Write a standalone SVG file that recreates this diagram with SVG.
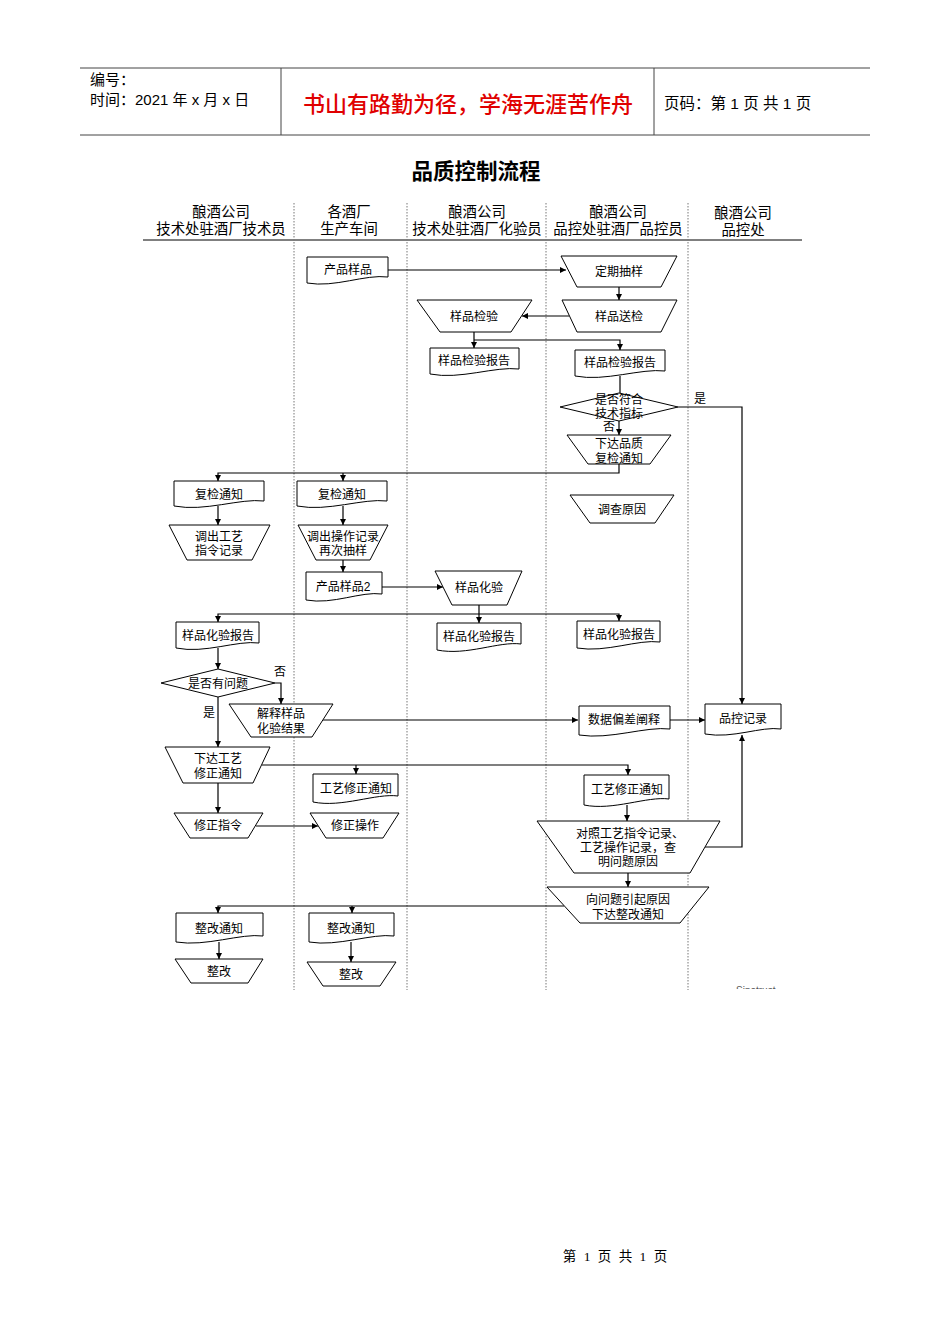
<svg xmlns="http://www.w3.org/2000/svg" width="950" height="1344" viewBox="0 0 950 1344">
<style>
text{font-family:"Liberation Sans","Noto Sans CJK SC",sans-serif;fill:#000}
.n{font-size:12px;text-anchor:middle}
.h{font-size:14.4px;text-anchor:middle}
.s{fill:#fff;stroke:#000;stroke-width:1}
.c{fill:none;stroke:#000;stroke-width:1.2}
.lane{stroke:#777;stroke-width:1;stroke-dasharray:1.5 1.5}
</style>
<defs>
<marker id="a" markerWidth="7" markerHeight="6" refX="6" refY="3" orient="auto" markerUnits="userSpaceOnUse"><path d="M0,0 L6,3 L0,6 z" fill="#000"/></marker>
<clipPath id="clip"><rect x="0" y="0" width="950" height="989"/></clipPath>
</defs>
<rect width="950" height="1344" fill="#fff"/>
<g id="header">
<line x1="80" y1="68" x2="870" y2="68" stroke="#444" stroke-width="1"/>
<line x1="80" y1="135" x2="870" y2="135" stroke="#444" stroke-width="1"/>
<line x1="281" y1="68" x2="281" y2="135" stroke="#444"/>
<line x1="654" y1="68" x2="654" y2="135" stroke="#444"/>
<text x="90" y="85" font-size="15">编号：</text>
<text x="90" y="105" font-size="15">时间：2021 年 x 月 x 日</text>
<text x="468" y="112" font-size="22" font-weight="500" text-anchor="middle" style="fill:#e00000">书山有路勤为径，学海无涯苦作舟</text>
<text x="664" y="109" font-size="15.5">页码：第 1 页  共 1 页</text>
</g>
<text x="476" y="179" font-size="21.5" font-weight="bold" text-anchor="middle">品质控制流程</text>
<g id="lanes">
<text class="h" x="221" y="217">酿酒公司</text><text class="h" x="221" y="234">技术处驻酒厂技术员</text>
<text class="h" x="349" y="217">各酒厂</text><text class="h" x="349" y="234">生产车间</text>
<text class="h" x="477" y="217">酿酒公司</text><text class="h" x="477" y="234">技术处驻酒厂化验员</text>
<text class="h" x="618" y="217">酿酒公司</text><text class="h" x="618" y="234">品控处驻酒厂品控员</text>
<text class="h" x="743" y="218">酿酒公司</text><text class="h" x="743" y="235">品控处</text>
<line x1="143" y1="240" x2="802" y2="240" stroke="#000"/>
<line class="lane" x1="294" y1="203" x2="294" y2="990"/>
<line class="lane" x1="407" y1="203" x2="407" y2="990"/>
<line class="lane" x1="546" y1="203" x2="546" y2="990"/>
<line class="lane" x1="688" y1="203" x2="688" y2="990"/>
</g>
<g id="connectors">
<path class="c" d="M388,270 H566" marker-end="url(#a)"/>
<path class="c" d="M619,287 V300" marker-end="url(#a)"/>
<path class="c" d="M569,316 H522" marker-end="url(#a)"/>
<path class="c" d="M474,332 V348" marker-end="url(#a)"/>
<path class="c" d="M474,340 H620 V350" marker-end="url(#a)"/>
<path class="c" d="M620,376 V393"/>
<path class="c" d="M619,421 V435" marker-end="url(#a)"/>
<path class="c" d="M678,407 H742 V704" marker-end="url(#a)"/>
<path class="c" d="M619,464 V473 H218 V481" marker-end="url(#a)"/>
<path class="c" d="M343,473 V481" marker-end="url(#a)"/>
<path class="c" d="M218,506 V525" marker-end="url(#a)"/>
<path class="c" d="M343,506 V525" marker-end="url(#a)"/>
<path class="c" d="M343,560 V572" marker-end="url(#a)"/>
<path class="c" d="M382,587 H443" marker-end="url(#a)"/>
<path class="c" d="M479,605 V623" marker-end="url(#a)"/>
<path class="c" d="M479,614 H218 V622" marker-end="url(#a)"/>
<path class="c" d="M479,614 H619 V621" marker-end="url(#a)"/>
<path class="c" d="M218,648 V669" marker-end="url(#a)"/>
<path class="c" d="M275,683 H281 V704" marker-end="url(#a)"/>
<path class="c" d="M218,697 V747" marker-end="url(#a)"/>
<path class="c" d="M323,720 H578" marker-end="url(#a)"/>
<path class="c" d="M670,720 H705" marker-end="url(#a)"/>
<path class="c" d="M262,765 H628 V775" marker-end="url(#a)"/>
<path class="c" d="M356,765 V774" marker-end="url(#a)"/>
<path class="c" d="M218,783 V813" marker-end="url(#a)"/>
<path class="c" d="M256,826 H318" marker-end="url(#a)"/>
<path class="c" d="M627,805 V821" marker-end="url(#a)"/>
<path class="c" d="M705,847 H742 V735" marker-end="url(#a)"/>
<path class="c" d="M628,873 V887" marker-end="url(#a)"/>
<path class="c" d="M564,906 H218 V913" marker-end="url(#a)"/>
<path class="c" d="M352,906 V913" marker-end="url(#a)"/>
<path class="c" d="M219,942 V959" marker-end="url(#a)"/>
<path class="c" d="M351,942 V962" marker-end="url(#a)"/>
<text x="694" y="403" font-size="12">是</text>
<text x="603" y="431" font-size="12">否</text>
<text x="274" y="676" font-size="12">否</text>
<text x="203" y="717" font-size="12">是</text>
</g>
<g id="n1"><path class="s" d="M307,257 H388 V277 C365,274 335,288 307,283 Z"/><text class="n" x="348" y="274">产品样品</text></g>
<g id="n2"><path class="s" d="M561,256 H677 L661,287 H577 Z"/><text class="n" x="619" y="276">定期抽样</text></g>
<g id="n3"><path class="s" d="M562,300 H677 L661,332 H577 Z"/><text class="n" x="619" y="321">样品送检</text></g>
<g id="n4"><path class="s" d="M417,300 H532 L511,332 H440 Z"/><text class="n" x="474" y="321">样品检验</text></g>
<g id="n5"><path class="s" d="M430,348 H519 V369 C495,366 460,380 430,374 Z"/><text class="n" x="474" y="365">样品检验报告</text></g>
<g id="n6"><path class="s" d="M575,350 H665 V371 C641,368 605,382 575,376 Z"/><text class="n" x="620" y="367">样品检验报告</text></g>
<g id="n7"><path class="s" d="M619,393 L678,407 L619,421 L560,407 Z"/><text class="n" x="619" y="404">是否符合</text><text class="n" x="619" y="418">技术指标</text></g>
<g id="n8"><path class="s" d="M567,435 H671 L650,464 H588 Z"/><text class="n" x="619" y="448">下达品质</text><text class="n" x="619" y="463">复检通知</text></g>
<g id="n9"><path class="s" d="M174,481 H264 V501 C240,498 205,512 174,506 Z"/><text class="n" x="219" y="499">复检通知</text></g>
<g id="n10"><path class="s" d="M297,481 H387 V501 C363,498 328,512 297,506 Z"/><text class="n" x="342" y="499">复检通知</text></g>
<g id="n11"><path class="s" d="M169,525 H270 L252,560 H187 Z"/><text class="n" x="219" y="541">调出工艺</text><text class="n" x="219" y="555">指令记录</text></g>
<g id="n12"><path class="s" d="M298,525 H388 L370,560 H316 Z"/><text class="n" x="343" y="541">调出操作记录</text><text class="n" x="343" y="555">再次抽样</text></g>
<g id="n13"><path class="s" d="M570,495 H674 L655,523 H590 Z"/><text class="n" x="622" y="514">调查原因</text></g>
<g id="n14"><path class="s" d="M306,572 H382 V594 C361,591 333,605 306,600 Z"/><text class="n" x="343" y="591">产品样品2</text></g>
<g id="n15"><path class="s" d="M435,571 H522 L507,605 H452 Z"/><text class="n" x="479" y="592">样品化验</text></g>
<g id="n16"><path class="s" d="M176,622 H259 V643 C237,640 205,654 176,648 Z"/><text class="n" x="218" y="640">样品化验报告</text></g>
<g id="n17"><path class="s" d="M437,623 H521 V644 C499,641 467,656 437,650 Z"/><text class="n" x="479" y="641">样品化验报告</text></g>
<g id="n18"><path class="s" d="M577,621 H660 V642 C638,639 606,653 577,648 Z"/><text class="n" x="619" y="639">样品化验报告</text></g>
<g id="n19"><path class="s" d="M218,669 L275,683 L218,697 L161,683 Z"/><text class="n" x="218" y="688">是否有问题</text></g>
<g id="n20"><path class="s" d="M229,704 H333 L312,737 H251 Z"/><text class="n" x="281" y="718">解释样品</text><text class="n" x="281" y="733">化验结果</text></g>
<g id="n21"><path class="s" d="M579,706 H670 V729 C646,726 610,740 579,735 Z"/><text class="n" x="624" y="724">数据偏差阐释</text></g>
<g id="n22"><path class="s" d="M705,704 H781 V729 C761,726 733,739 705,734 Z"/><text class="n" x="743" y="723">品控记录</text></g>
<g id="n23"><path class="s" d="M165,747 H270 L253,783 H183 Z"/><text class="n" x="218" y="763">下达工艺</text><text class="n" x="218" y="778">修正通知</text></g>
<g id="n24"><path class="s" d="M313,774 H398 V796 C376,793 342,808 313,802 Z"/><text class="n" x="356" y="793">工艺修正通知</text></g>
<g id="n25"><path class="s" d="M584,775 H669 V799 C647,796 613,811 584,805 Z"/><text class="n" x="627" y="794">工艺修正通知</text></g>
<g id="n26"><path class="s" d="M174,813 H263 L248,838 H190 Z"/><text class="n" x="218" y="830">修正指令</text></g>
<g id="n27"><path class="s" d="M310,813 H399 L383,838 H326 Z"/><text class="n" x="355" y="830">修正操作</text></g>
<g id="n28"><path class="s" d="M537,821 H720 L690,873 H574 Z"/><text class="n" x="630" y="838">对照工艺指令记录、</text><text class="n" x="628" y="852">工艺操作记录，查</text><text class="n" x="628" y="866">明问题原因</text></g>
<g id="n29"><path class="s" d="M547,887 H709 L680,923 H580 Z"/><text class="n" x="628" y="904">向问题引起原因</text><text class="n" x="628" y="919">下达整改通知</text></g>
<g id="n30"><path class="s" d="M176,913 H263 V936 C241,933 206,947 176,942 Z"/><text class="n" x="219" y="933">整改通知</text></g>
<g id="n31"><path class="s" d="M309,913 H394 V936 C372,933 338,947 309,942 Z"/><text class="n" x="351" y="933">整改通知</text></g>
<g id="n32"><path class="s" d="M175,959 H263 L248,983 H191 Z"/><text class="n" x="219" y="976">整改</text></g>
<g id="n33"><path class="s" d="M307,962 H396 L380,986 H323 Z"/><text class="n" x="351" y="979">整改</text></g>
<g clip-path="url(#clip)"><text x="736" y="994" font-size="10" style="fill:#555">Sinotrust</text></g>
<text x="616" y="1261" font-size="13.5" text-anchor="middle" letter-spacing="2" style="font-family:'Liberation Serif','Noto Sans CJK SC',serif">第 1 页 共 1 页</text>
</svg>
